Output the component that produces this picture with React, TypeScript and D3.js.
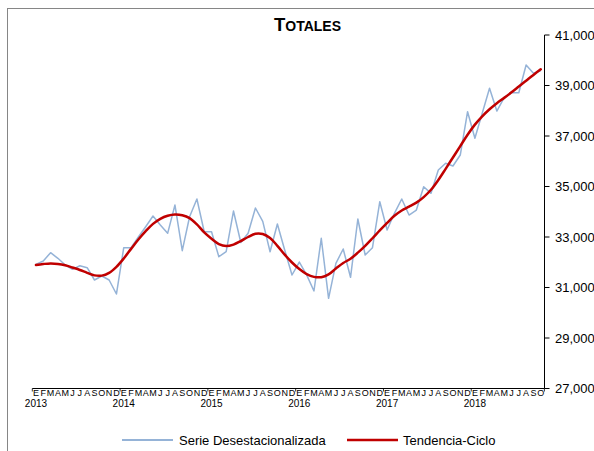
import React from "react";
import * as d3 from "d3";

const years = [2013, 2014, 2015, 2016, 2017, 2018];
const monthLetters = ["E", "F", "M", "A", "M", "J", "J", "A", "S", "O", "N", "D"];
const monthCount = 70; // Jan 2013 .. Oct 2018

const serieDesestacionalizada = [
  31910, 32050, 32378, 32156, 31891, 31720, 31863, 31784, 31297, 31455, 31297, 30742,
  32576, 32576, 33000, 33407, 33831, 33475, 33146, 34267, 32457, 33803, 34504, 33209,
  33209, 32219, 32417, 34029, 32782, 33146, 34148, 33621, 32417, 33514, 32485, 31495,
  32009, 31500, 30861, 32948, 30572, 31958, 32524, 31404, 33712, 32287, 32576, 34397,
  33277, 33938, 34504, 33871, 34069, 34991, 34730, 35653, 35918, 35811, 36247, 37961,
  36908, 37898, 38888, 37989, 38516, 38714, 38714, 39811, 39482, 39585,
];

const tendenciaCiclo = [
  31890, 31930, 31955, 31935, 31880, 31790, 31695, 31580, 31480, 31470, 31580, 31820,
  32150, 32530, 32900, 33230, 33520, 33720, 33840, 33890, 33860, 33750, 33500, 33180,
  32930, 32720, 32640, 32700, 32840, 33000, 33130, 33120, 32960, 32650, 32300, 31990,
  31730, 31530, 31420, 31410, 31520, 31750, 31970, 32140, 32380, 32650, 32950, 33260,
  33560, 33840, 34050, 34200, 34360, 34580, 34870, 35260, 35700, 36150, 36600, 37050,
  37450, 37780, 38060, 38300, 38510, 38730, 38960, 39190, 39420, 39640,
];

const yTicks = [27000, 29000, 31000, 33000, 35000, 37000, 39000, 41000];

const W = 594;
const H = 451;
const FONT = "Arial, 'Liberation Sans', sans-serif";

export default function App() {
  const keys = d3.range(monthCount).map((i) => String(i));
  const x = d3.scaleBand<string>().domain(keys).range([32.3, 544.4]).padding(0);
  const bw = x.bandwidth();
  const cx = (i: number) => (x(String(i)) as number) + bw / 2;
  const y = d3.scaleLinear().domain([27000, 41000]).range([388.5, 35]);

  const blueLine = d3
    .line<number>()
    .x((_, i) => cx(i))
    .y((d) => y(d));
  const redLine = d3
    .line<number>()
    .x((_, i) => cx(i))
    .y((d) => y(d))
    .curve(d3.curveCatmullRom.alpha(0.5));

  const fmt = d3.format(",");
  const axisX = 544.5;
  const axisY = 388.5;

  const boundaries = d3.range(0, monthCount + 1, 12).concat([monthCount]);

  return (
    <svg
      width={W}
      height={H}
      style={{ position: "absolute", left: 0, top: 0, background: "#fff" }}
      fontFamily={FONT}
    >
      <rect x={7.5} y={8.5} width={700} height={600} fill="#fff" stroke="#868686" strokeWidth={1} />

      {/* Title */}
      <text x={307.5} y={31} textAnchor="middle" fontWeight="bold" fill="#000">
        <tspan fontSize={18.5}>T</tspan>
        <tspan fontSize={14}>OTALES</tspan>
      </text>

      {/* Series */}
      <path d={blueLine(serieDesestacionalizada) || ""} fill="none" stroke="#95B3D7" strokeWidth={1.5} strokeLinejoin="round" />
      <path d={redLine(tendenciaCiclo) || ""} fill="none" stroke="#C00000" strokeWidth={2.5} strokeLinejoin="round" strokeLinecap="round" />

      {/* Bottom axis */}
      <line x1={32.3} x2={axisX} y1={axisY} y2={axisY} stroke="#000" strokeWidth={1} />
      {boundaries.map((b, k) => {
        const bx = b >= monthCount ? 544.4 : (x(String(b)) as number);
        return <line key={"bt" + k} x1={bx} x2={bx} y1={axisY} y2={axisY + 3} stroke="#000" strokeWidth={0.8} />;
      })}
      {keys.map((k, i) => (
        <text key={"m" + k} x={cx(i)} y={395.5} fontSize={9} textAnchor="middle" fill="#000">
          {monthLetters[i % 12]}
        </text>
      ))}
      {years.map((yr, j) => (
        <text key={"y" + yr} x={cx(j * 12)} y={407.3} fontSize={10} textAnchor="middle" fill="#000">
          {yr}
        </text>
      ))}

      {/* Right axis */}
      <line x1={axisX} x2={axisX} y1={y(41000)} y2={axisY} stroke="#000" strokeWidth={1} />
      {yTicks.map((t) => (
        <g key={"yt" + t}>
          <line x1={axisX} x2={axisX + 5} y1={y(t)} y2={y(t)} stroke="#000" strokeWidth={1} />
          <text x={555} y={y(t)} dy="0.35em" fontSize={13} fill="#000">
            {fmt(t)}
          </text>
        </g>
      ))}

      {/* Legend */}
      <line x1={122} x2={173} y1={440} y2={440} stroke="#95B3D7" strokeWidth={2} />
      <text x={179} y={444.5} fontSize={13} fill="#000">Serie Desestacionalizada</text>
      <line x1={347} x2={398} y1={440} y2={440} stroke="#C00000" strokeWidth={2.5} />
      <text x={403} y={444.5} fontSize={13} fill="#000">Tendencia-Ciclo</text>
    </svg>
  );
}
